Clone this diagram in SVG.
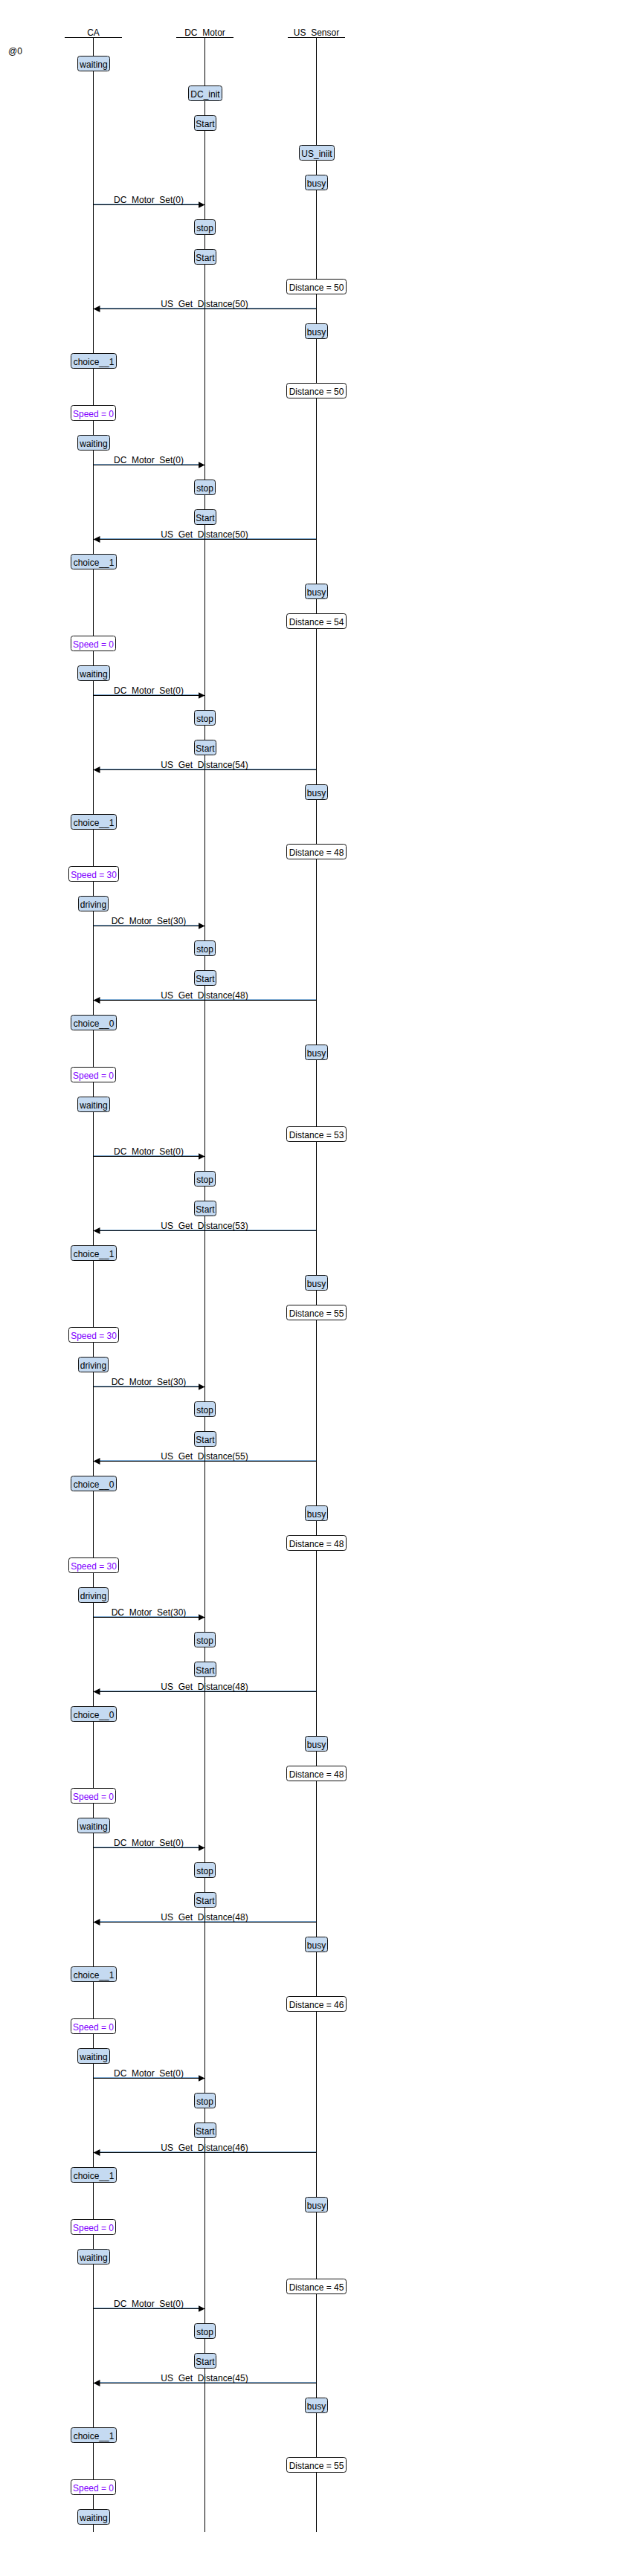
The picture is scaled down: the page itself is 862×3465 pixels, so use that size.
<svg xmlns="http://www.w3.org/2000/svg" width="862" height="3465" viewBox="0 0 862 3465">
<style>
text{font-family:"Liberation Sans",Arial,sans-serif;font-size:12px;fill:#000}
.c{text-anchor:middle}
.st{fill:#c5daf1;stroke:#111;stroke-width:1}
.vb{fill:#fff;stroke:#111;stroke-width:1}
.sp{fill:#8000ff}
.ll{stroke:#000;stroke-width:1}
.msg{stroke:#000;stroke-width:1}
.sh{stroke:#7aa7d0;stroke-width:1}
</style>
<defs>
<marker id="ah" markerUnits="userSpaceOnUse" viewBox="0 0 9 9" markerWidth="9" markerHeight="9" refX="9" refY="4.5" orient="auto"><path d="M0,0 L9,4.5 L0,9 z" fill="#000"/></marker>
</defs>
<rect width="862" height="3465" fill="#fff"/>
<text x="11" y="73">@0</text>
<g id="connectors">
<g transform="translate(0,275)"><line class="sh" x1="125.5" y1="-0.5" x2="267" y2="-0.5"/><line class="msg" x1="125.5" y1="0.5" x2="275.5" y2="0.5" marker-end="url(#ah)"/><text class="c" x="200" y="-2">DC_Motor_Set(0)</text></g>
<g transform="translate(0,415)"><line class="sh" x1="134" y1="-0.5" x2="425.5" y2="-0.5"/><line class="msg" x1="425.5" y1="0.5" x2="125.5" y2="0.5" marker-end="url(#ah)"/><text class="c" x="275" y="-2">US_Get_Distance(50)</text></g>
<g transform="translate(0,625)"><line class="sh" x1="125.5" y1="-0.5" x2="267" y2="-0.5"/><line class="msg" x1="125.5" y1="0.5" x2="275.5" y2="0.5" marker-end="url(#ah)"/><text class="c" x="200" y="-2">DC_Motor_Set(0)</text></g>
<g transform="translate(0,725)"><line class="sh" x1="134" y1="-0.5" x2="425.5" y2="-0.5"/><line class="msg" x1="425.5" y1="0.5" x2="125.5" y2="0.5" marker-end="url(#ah)"/><text class="c" x="275" y="-2">US_Get_Distance(50)</text></g>
<g transform="translate(0,935)"><line class="sh" x1="125.5" y1="-0.5" x2="267" y2="-0.5"/><line class="msg" x1="125.5" y1="0.5" x2="275.5" y2="0.5" marker-end="url(#ah)"/><text class="c" x="200" y="-2">DC_Motor_Set(0)</text></g>
<g transform="translate(0,1035)"><line class="sh" x1="134" y1="-0.5" x2="425.5" y2="-0.5"/><line class="msg" x1="425.5" y1="0.5" x2="125.5" y2="0.5" marker-end="url(#ah)"/><text class="c" x="275" y="-2">US_Get_Distance(54)</text></g>
<g transform="translate(0,1245)"><line class="sh" x1="125.5" y1="-0.5" x2="267" y2="-0.5"/><line class="msg" x1="125.5" y1="0.5" x2="275.5" y2="0.5" marker-end="url(#ah)"/><text class="c" x="200" y="-2">DC_Motor_Set(30)</text></g>
<g transform="translate(0,1345)"><line class="sh" x1="134" y1="-0.5" x2="425.5" y2="-0.5"/><line class="msg" x1="425.5" y1="0.5" x2="125.5" y2="0.5" marker-end="url(#ah)"/><text class="c" x="275" y="-2">US_Get_Distance(48)</text></g>
<g transform="translate(0,1555)"><line class="sh" x1="125.5" y1="-0.5" x2="267" y2="-0.5"/><line class="msg" x1="125.5" y1="0.5" x2="275.5" y2="0.5" marker-end="url(#ah)"/><text class="c" x="200" y="-2">DC_Motor_Set(0)</text></g>
<g transform="translate(0,1655)"><line class="sh" x1="134" y1="-0.5" x2="425.5" y2="-0.5"/><line class="msg" x1="425.5" y1="0.5" x2="125.5" y2="0.5" marker-end="url(#ah)"/><text class="c" x="275" y="-2">US_Get_Distance(53)</text></g>
<g transform="translate(0,1865)"><line class="sh" x1="125.5" y1="-0.5" x2="267" y2="-0.5"/><line class="msg" x1="125.5" y1="0.5" x2="275.5" y2="0.5" marker-end="url(#ah)"/><text class="c" x="200" y="-2">DC_Motor_Set(30)</text></g>
<g transform="translate(0,1965)"><line class="sh" x1="134" y1="-0.5" x2="425.5" y2="-0.5"/><line class="msg" x1="425.5" y1="0.5" x2="125.5" y2="0.5" marker-end="url(#ah)"/><text class="c" x="275" y="-2">US_Get_Distance(55)</text></g>
<g transform="translate(0,2175)"><line class="sh" x1="125.5" y1="-0.5" x2="267" y2="-0.5"/><line class="msg" x1="125.5" y1="0.5" x2="275.5" y2="0.5" marker-end="url(#ah)"/><text class="c" x="200" y="-2">DC_Motor_Set(30)</text></g>
<g transform="translate(0,2275)"><line class="sh" x1="134" y1="-0.5" x2="425.5" y2="-0.5"/><line class="msg" x1="425.5" y1="0.5" x2="125.5" y2="0.5" marker-end="url(#ah)"/><text class="c" x="275" y="-2">US_Get_Distance(48)</text></g>
<g transform="translate(0,2485)"><line class="sh" x1="125.5" y1="-0.5" x2="267" y2="-0.5"/><line class="msg" x1="125.5" y1="0.5" x2="275.5" y2="0.5" marker-end="url(#ah)"/><text class="c" x="200" y="-2">DC_Motor_Set(0)</text></g>
<g transform="translate(0,2585)"><line class="sh" x1="134" y1="-0.5" x2="425.5" y2="-0.5"/><line class="msg" x1="425.5" y1="0.5" x2="125.5" y2="0.5" marker-end="url(#ah)"/><text class="c" x="275" y="-2">US_Get_Distance(48)</text></g>
<g transform="translate(0,2795)"><line class="sh" x1="125.5" y1="-0.5" x2="267" y2="-0.5"/><line class="msg" x1="125.5" y1="0.5" x2="275.5" y2="0.5" marker-end="url(#ah)"/><text class="c" x="200" y="-2">DC_Motor_Set(0)</text></g>
<g transform="translate(0,2895)"><line class="sh" x1="134" y1="-0.5" x2="425.5" y2="-0.5"/><line class="msg" x1="425.5" y1="0.5" x2="125.5" y2="0.5" marker-end="url(#ah)"/><text class="c" x="275" y="-2">US_Get_Distance(46)</text></g>
<g transform="translate(0,3105)"><line class="sh" x1="125.5" y1="-0.5" x2="267" y2="-0.5"/><line class="msg" x1="125.5" y1="0.5" x2="275.5" y2="0.5" marker-end="url(#ah)"/><text class="c" x="200" y="-2">DC_Motor_Set(0)</text></g>
<g transform="translate(0,3205)"><line class="sh" x1="134" y1="-0.5" x2="425.5" y2="-0.5"/><line class="msg" x1="425.5" y1="0.5" x2="125.5" y2="0.5" marker-end="url(#ah)"/><text class="c" x="275" y="-2">US_Get_Distance(45)</text></g>
</g>
<g id="CA"><text class="c" x="125.5" y="48">CA</text><line class="ll" x1="87" y1="50.5" x2="164" y2="50.5"/><line class="ll" x1="125.5" y1="50" x2="125.5" y2="3406"/></g>
<g id="DC_Motor"><text class="c" x="275.5" y="48">DC_Motor</text><line class="ll" x1="237" y1="50.5" x2="314" y2="50.5"/><line class="ll" x1="275.5" y1="50" x2="275.5" y2="3406"/></g>
<g id="US_Sensor"><text class="c" x="425.5" y="48">US_Sensor</text><line class="ll" x1="387" y1="50.5" x2="464" y2="50.5"/><line class="ll" x1="425.5" y1="50" x2="425.5" y2="3406"/></g>
<g id="CA-states">
<g id="ca1" transform="translate(0,75)"><rect class="st" x="104.5" y="0.5" width="43" height="20" rx="3"/><text class="c" x="126" y="15.5">waiting</text></g>
<g id="ca2" transform="translate(0,475)"><rect class="st" x="95.5" y="0.5" width="61" height="20" rx="3"/><text class="c" x="126" y="15.5">choice__1</text></g>
<g id="ca3" transform="translate(0,545)"><rect class="vb" x="95.5" y="0.5" width="60" height="20" rx="3"/><text class="c sp" x="125.5" y="15.5">Speed = 0</text></g>
<g id="ca4" transform="translate(0,585)"><rect class="st" x="104.5" y="0.5" width="43" height="20" rx="3"/><text class="c" x="126" y="15.5">waiting</text></g>
<g id="ca5" transform="translate(0,745)"><rect class="st" x="95.5" y="0.5" width="61" height="20" rx="3"/><text class="c" x="126" y="15.5">choice__1</text></g>
<g id="ca6" transform="translate(0,855)"><rect class="vb" x="95.5" y="0.5" width="60" height="20" rx="3"/><text class="c sp" x="125.5" y="15.5">Speed = 0</text></g>
<g id="ca7" transform="translate(0,895)"><rect class="st" x="104.5" y="0.5" width="43" height="20" rx="3"/><text class="c" x="126" y="15.5">waiting</text></g>
<g id="ca8" transform="translate(0,1095)"><rect class="st" x="95.5" y="0.5" width="61" height="20" rx="3"/><text class="c" x="126" y="15.5">choice__1</text></g>
<g id="ca9" transform="translate(0,1165)"><rect class="vb" x="92.5" y="0.5" width="67" height="20" rx="3"/><text class="c sp" x="126" y="15.5">Speed = 30</text></g>
<g id="ca10" transform="translate(0,1205)"><rect class="st" x="105.5" y="0.5" width="40" height="20" rx="3"/><text class="c" x="125.5" y="15.5">driving</text></g>
<g id="ca11" transform="translate(0,1365)"><rect class="st" x="95.5" y="0.5" width="61" height="20" rx="3"/><text class="c" x="126" y="15.5">choice__0</text></g>
<g id="ca12" transform="translate(0,1435)"><rect class="vb" x="95.5" y="0.5" width="60" height="20" rx="3"/><text class="c sp" x="125.5" y="15.5">Speed = 0</text></g>
<g id="ca13" transform="translate(0,1475)"><rect class="st" x="104.5" y="0.5" width="43" height="20" rx="3"/><text class="c" x="126" y="15.5">waiting</text></g>
<g id="ca14" transform="translate(0,1675)"><rect class="st" x="95.5" y="0.5" width="61" height="20" rx="3"/><text class="c" x="126" y="15.5">choice__1</text></g>
<g id="ca15" transform="translate(0,1785)"><rect class="vb" x="92.5" y="0.5" width="67" height="20" rx="3"/><text class="c sp" x="126" y="15.5">Speed = 30</text></g>
<g id="ca16" transform="translate(0,1825)"><rect class="st" x="105.5" y="0.5" width="40" height="20" rx="3"/><text class="c" x="125.5" y="15.5">driving</text></g>
<g id="ca17" transform="translate(0,1985)"><rect class="st" x="95.5" y="0.5" width="61" height="20" rx="3"/><text class="c" x="126" y="15.5">choice__0</text></g>
<g id="ca18" transform="translate(0,2095)"><rect class="vb" x="92.5" y="0.5" width="67" height="20" rx="3"/><text class="c sp" x="126" y="15.5">Speed = 30</text></g>
<g id="ca19" transform="translate(0,2135)"><rect class="st" x="105.5" y="0.5" width="40" height="20" rx="3"/><text class="c" x="125.5" y="15.5">driving</text></g>
<g id="ca20" transform="translate(0,2295)"><rect class="st" x="95.5" y="0.5" width="61" height="20" rx="3"/><text class="c" x="126" y="15.5">choice__0</text></g>
<g id="ca21" transform="translate(0,2405)"><rect class="vb" x="95.5" y="0.5" width="60" height="20" rx="3"/><text class="c sp" x="125.5" y="15.5">Speed = 0</text></g>
<g id="ca22" transform="translate(0,2445)"><rect class="st" x="104.5" y="0.5" width="43" height="20" rx="3"/><text class="c" x="126" y="15.5">waiting</text></g>
<g id="ca23" transform="translate(0,2645)"><rect class="st" x="95.5" y="0.5" width="61" height="20" rx="3"/><text class="c" x="126" y="15.5">choice__1</text></g>
<g id="ca24" transform="translate(0,2715)"><rect class="vb" x="95.5" y="0.5" width="60" height="20" rx="3"/><text class="c sp" x="125.5" y="15.5">Speed = 0</text></g>
<g id="ca25" transform="translate(0,2755)"><rect class="st" x="104.5" y="0.5" width="43" height="20" rx="3"/><text class="c" x="126" y="15.5">waiting</text></g>
<g id="ca26" transform="translate(0,2915)"><rect class="st" x="95.5" y="0.5" width="61" height="20" rx="3"/><text class="c" x="126" y="15.5">choice__1</text></g>
<g id="ca27" transform="translate(0,2985)"><rect class="vb" x="95.5" y="0.5" width="60" height="20" rx="3"/><text class="c sp" x="125.5" y="15.5">Speed = 0</text></g>
<g id="ca28" transform="translate(0,3025)"><rect class="st" x="104.5" y="0.5" width="43" height="20" rx="3"/><text class="c" x="126" y="15.5">waiting</text></g>
<g id="ca29" transform="translate(0,3265)"><rect class="st" x="95.5" y="0.5" width="61" height="20" rx="3"/><text class="c" x="126" y="15.5">choice__1</text></g>
<g id="ca30" transform="translate(0,3335)"><rect class="vb" x="95.5" y="0.5" width="60" height="20" rx="3"/><text class="c sp" x="125.5" y="15.5">Speed = 0</text></g>
<g id="ca31" transform="translate(0,3375)"><rect class="st" x="104.5" y="0.5" width="43" height="20" rx="3"/><text class="c" x="126" y="15.5">waiting</text></g>
</g>
<g id="DC-states">
<g id="dc1" transform="translate(0,115)"><rect class="st" x="253.5" y="0.5" width="45" height="20" rx="3"/><text class="c" x="276" y="15.5">DC_init</text></g>
<g id="dc2" transform="translate(0,155)"><rect class="st" x="261.5" y="0.5" width="29" height="20" rx="3"/><text class="c" x="276" y="15.5">Start</text></g>
<g id="dc3" transform="translate(0,295)"><rect class="st" x="261.5" y="0.5" width="28" height="20" rx="3"/><text class="c" x="275.5" y="15.5">stop</text></g>
<g id="dc4" transform="translate(0,335)"><rect class="st" x="261.5" y="0.5" width="29" height="20" rx="3"/><text class="c" x="276" y="15.5">Start</text></g>
<g id="dc5" transform="translate(0,645)"><rect class="st" x="261.5" y="0.5" width="28" height="20" rx="3"/><text class="c" x="275.5" y="15.5">stop</text></g>
<g id="dc6" transform="translate(0,685)"><rect class="st" x="261.5" y="0.5" width="29" height="20" rx="3"/><text class="c" x="276" y="15.5">Start</text></g>
<g id="dc7" transform="translate(0,955)"><rect class="st" x="261.5" y="0.5" width="28" height="20" rx="3"/><text class="c" x="275.5" y="15.5">stop</text></g>
<g id="dc8" transform="translate(0,995)"><rect class="st" x="261.5" y="0.5" width="29" height="20" rx="3"/><text class="c" x="276" y="15.5">Start</text></g>
<g id="dc9" transform="translate(0,1265)"><rect class="st" x="261.5" y="0.5" width="28" height="20" rx="3"/><text class="c" x="275.5" y="15.5">stop</text></g>
<g id="dc10" transform="translate(0,1305)"><rect class="st" x="261.5" y="0.5" width="29" height="20" rx="3"/><text class="c" x="276" y="15.5">Start</text></g>
<g id="dc11" transform="translate(0,1575)"><rect class="st" x="261.5" y="0.5" width="28" height="20" rx="3"/><text class="c" x="275.5" y="15.5">stop</text></g>
<g id="dc12" transform="translate(0,1615)"><rect class="st" x="261.5" y="0.5" width="29" height="20" rx="3"/><text class="c" x="276" y="15.5">Start</text></g>
<g id="dc13" transform="translate(0,1885)"><rect class="st" x="261.5" y="0.5" width="28" height="20" rx="3"/><text class="c" x="275.5" y="15.5">stop</text></g>
<g id="dc14" transform="translate(0,1925)"><rect class="st" x="261.5" y="0.5" width="29" height="20" rx="3"/><text class="c" x="276" y="15.5">Start</text></g>
<g id="dc15" transform="translate(0,2195)"><rect class="st" x="261.5" y="0.5" width="28" height="20" rx="3"/><text class="c" x="275.5" y="15.5">stop</text></g>
<g id="dc16" transform="translate(0,2235)"><rect class="st" x="261.5" y="0.5" width="29" height="20" rx="3"/><text class="c" x="276" y="15.5">Start</text></g>
<g id="dc17" transform="translate(0,2505)"><rect class="st" x="261.5" y="0.5" width="28" height="20" rx="3"/><text class="c" x="275.5" y="15.5">stop</text></g>
<g id="dc18" transform="translate(0,2545)"><rect class="st" x="261.5" y="0.5" width="29" height="20" rx="3"/><text class="c" x="276" y="15.5">Start</text></g>
<g id="dc19" transform="translate(0,2815)"><rect class="st" x="261.5" y="0.5" width="28" height="20" rx="3"/><text class="c" x="275.5" y="15.5">stop</text></g>
<g id="dc20" transform="translate(0,2855)"><rect class="st" x="261.5" y="0.5" width="29" height="20" rx="3"/><text class="c" x="276" y="15.5">Start</text></g>
<g id="dc21" transform="translate(0,3125)"><rect class="st" x="261.5" y="0.5" width="28" height="20" rx="3"/><text class="c" x="275.5" y="15.5">stop</text></g>
<g id="dc22" transform="translate(0,3165)"><rect class="st" x="261.5" y="0.5" width="29" height="20" rx="3"/><text class="c" x="276" y="15.5">Start</text></g>
</g>
<g id="US-states">
<g id="us1" transform="translate(0,195)"><rect class="st" x="402.5" y="0.5" width="47" height="20" rx="3"/><text class="c" x="426" y="15.5">US_iniit</text></g>
<g id="us2" transform="translate(0,235)"><rect class="st" x="410.5" y="0.5" width="30" height="20" rx="3"/><text class="c" x="425.5" y="15.5">busy</text></g>
<g id="us3" transform="translate(0,375)"><rect class="vb" x="385.5" y="0.5" width="80" height="20" rx="3"/><text class="c" x="425.5" y="15.5">Distance = 50</text></g>
<g id="us4" transform="translate(0,435)"><rect class="st" x="410.5" y="0.5" width="30" height="20" rx="3"/><text class="c" x="425.5" y="15.5">busy</text></g>
<g id="us5" transform="translate(0,515)"><rect class="vb" x="385.5" y="0.5" width="80" height="20" rx="3"/><text class="c" x="425.5" y="15.5">Distance = 50</text></g>
<g id="us6" transform="translate(0,785)"><rect class="st" x="410.5" y="0.5" width="30" height="20" rx="3"/><text class="c" x="425.5" y="15.5">busy</text></g>
<g id="us7" transform="translate(0,825)"><rect class="vb" x="385.5" y="0.5" width="80" height="20" rx="3"/><text class="c" x="425.5" y="15.5">Distance = 54</text></g>
<g id="us8" transform="translate(0,1055)"><rect class="st" x="410.5" y="0.5" width="30" height="20" rx="3"/><text class="c" x="425.5" y="15.5">busy</text></g>
<g id="us9" transform="translate(0,1135)"><rect class="vb" x="385.5" y="0.5" width="80" height="20" rx="3"/><text class="c" x="425.5" y="15.5">Distance = 48</text></g>
<g id="us10" transform="translate(0,1405)"><rect class="st" x="410.5" y="0.5" width="30" height="20" rx="3"/><text class="c" x="425.5" y="15.5">busy</text></g>
<g id="us11" transform="translate(0,1515)"><rect class="vb" x="385.5" y="0.5" width="80" height="20" rx="3"/><text class="c" x="425.5" y="15.5">Distance = 53</text></g>
<g id="us12" transform="translate(0,1715)"><rect class="st" x="410.5" y="0.5" width="30" height="20" rx="3"/><text class="c" x="425.5" y="15.5">busy</text></g>
<g id="us13" transform="translate(0,1755)"><rect class="vb" x="385.5" y="0.5" width="80" height="20" rx="3"/><text class="c" x="425.5" y="15.5">Distance = 55</text></g>
<g id="us14" transform="translate(0,2025)"><rect class="st" x="410.5" y="0.5" width="30" height="20" rx="3"/><text class="c" x="425.5" y="15.5">busy</text></g>
<g id="us15" transform="translate(0,2065)"><rect class="vb" x="385.5" y="0.5" width="80" height="20" rx="3"/><text class="c" x="425.5" y="15.5">Distance = 48</text></g>
<g id="us16" transform="translate(0,2335)"><rect class="st" x="410.5" y="0.5" width="30" height="20" rx="3"/><text class="c" x="425.5" y="15.5">busy</text></g>
<g id="us17" transform="translate(0,2375)"><rect class="vb" x="385.5" y="0.5" width="80" height="20" rx="3"/><text class="c" x="425.5" y="15.5">Distance = 48</text></g>
<g id="us18" transform="translate(0,2605)"><rect class="st" x="410.5" y="0.5" width="30" height="20" rx="3"/><text class="c" x="425.5" y="15.5">busy</text></g>
<g id="us19" transform="translate(0,2685)"><rect class="vb" x="385.5" y="0.5" width="80" height="20" rx="3"/><text class="c" x="425.5" y="15.5">Distance = 46</text></g>
<g id="us20" transform="translate(0,2955)"><rect class="st" x="410.5" y="0.5" width="30" height="20" rx="3"/><text class="c" x="425.5" y="15.5">busy</text></g>
<g id="us21" transform="translate(0,3065)"><rect class="vb" x="385.5" y="0.5" width="80" height="20" rx="3"/><text class="c" x="425.5" y="15.5">Distance = 45</text></g>
<g id="us22" transform="translate(0,3225)"><rect class="st" x="410.5" y="0.5" width="30" height="20" rx="3"/><text class="c" x="425.5" y="15.5">busy</text></g>
<g id="us23" transform="translate(0,3305)"><rect class="vb" x="385.5" y="0.5" width="80" height="20" rx="3"/><text class="c" x="425.5" y="15.5">Distance = 55</text></g>
</g>
</svg>
